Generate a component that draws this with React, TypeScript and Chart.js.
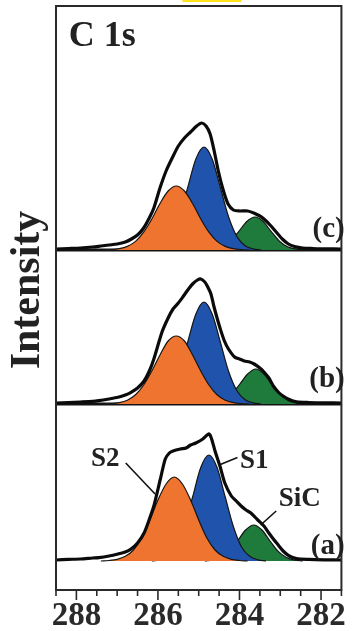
import React, { useEffect, useRef } from 'react';
import { Chart, registerables } from 'chart.js';

Chart.register(...registerables);

type Pt = [number, number];

// Binding energy axis (eV), drawn high → low
const energyMin = 281.5;
const energyMax = 288.5;
const energyTicks = [288, 286, 284, 282];

// ---- Sample (a) ----
const envelopeA: Pt[] = [
  [288.5, 1], [288.2, 1.6], [287.9, 2], [287.6, 3], [287.45, 3.4], [287.2, 5], [286.98, 7], [286.8, 9],
  [286.66, 12], [286.5, 18], [286.34, 28], [286.2, 43], [286.1, 55], [285.94, 82], [285.82, 102],
  [285.72, 108], [285.63, 110], [285.45, 112], [285.31, 113], [285.2, 116], [285.07, 118], [284.9, 122],
  [284.76, 127], [284.7, 124], [284.6, 110], [284.48, 95], [284.36, 78], [284.2, 65], [284.08, 60],
  [283.96, 55], [283.84, 51], [283.72, 48], [283.55, 41], [283.4, 35], [283.28, 28], [283.17, 22],
  [283.05, 16], [282.93, 10], [282.78, 5], [282.6, 2.4], [282.3, 1.6], [281.9, 1.2], [281.5, 1],
];
const s2A: Pt[] = [
  [287.4, 0], [287.2, 0.5], [287.0, 1.7], [286.8, 4.7], [286.6, 11], [286.4, 23], [286.2, 41], [286.0, 61],
  [285.8, 77], [285.6, 84], [285.4, 77], [285.2, 61], [285.0, 41], [284.8, 23], [284.6, 11], [284.4, 4.7],
  [284.2, 1.7], [284.0, 0.5], [283.8, 0],
];
const s1A: Pt[] = [
  [286.15, 0], [285.95, 1.2], [285.75, 4.7], [285.55, 14], [285.35, 34.5], [285.15, 64], [284.95, 93.5],
  [284.75, 106], [284.55, 93.5], [284.35, 64], [284.15, 34.5], [283.95, 14], [283.75, 4.7], [283.55, 1.2],
  [283.35, 0],
];
const sicA: Pt[] = [
  [284.85, 0], [284.65, 0.9], [284.45, 3.5], [284.25, 9.6], [284.05, 20], [283.85, 31], [283.65, 36],
  [283.45, 31], [283.25, 20], [283.05, 9.6], [282.85, 3.5], [282.65, 0.9], [282.45, 0],
];

// ---- Sample (b) ----
const envelopeB: Pt[] = [
  [288.5, 1], [288.2, 1.5], [287.9, 2], [287.6, 2.6], [287.45, 3.3], [287.2, 5], [286.98, 6.7], [286.8, 9],
  [286.66, 11.7], [286.5, 16], [286.34, 23], [286.2, 34], [286.1, 45], [285.9, 72], [285.75, 86],
  [285.63, 95], [285.5, 101], [285.39, 107], [285.25, 115], [285.15, 120], [285.03, 124], [284.95, 125],
  [284.85, 122], [284.79, 118], [284.7, 110], [284.63, 98], [284.55, 86], [284.47, 75], [284.37, 63],
  [284.27, 55], [284.12, 47], [284.0, 45], [283.88, 43], [283.75, 42], [283.64, 40], [283.5, 36],
  [283.4, 32], [283.28, 26], [283.17, 18], [283.05, 12], [282.93, 8], [282.78, 4.5], [282.6, 2.2],
  [282.3, 1.5], [281.9, 1.1], [281.5, 1],
];
const s2B: Pt[] = [
  [287.35, 0], [287.15, 0.4], [286.95, 1.3], [286.75, 3.8], [286.55, 9.2], [286.35, 19], [286.15, 33],
  [285.95, 49], [285.75, 63], [285.55, 68], [285.35, 63], [285.15, 49], [284.95, 33], [284.75, 19],
  [284.55, 9.2], [284.35, 3.8], [284.15, 1.3], [283.95, 0.4], [283.75, 0],
];
const s1B: Pt[] = [
  [286.27, 0], [286.07, 1.1], [285.87, 4.5], [285.67, 13.8], [285.47, 33], [285.27, 62], [285.07, 90],
  [284.87, 102], [284.67, 90], [284.47, 62], [284.27, 33], [284.07, 13.8], [283.87, 4.5], [283.67, 1.1],
  [283.47, 0],
];
const sicB: Pt[] = [
  [284.8, 0], [284.6, 0.9], [284.4, 3.4], [284.2, 9.4], [284.0, 19.5], [283.8, 30], [283.6, 35],
  [283.4, 30], [283.2, 19.5], [283.0, 9.4], [282.8, 3.4], [282.6, 0.9], [282.4, 0],
];

// ---- Sample (c) ----
const envelopeC: Pt[] = [
  [288.5, 1], [288.2, 1.5], [287.9, 2], [287.6, 3], [287.4, 4], [287.2, 5], [287.0, 6], [286.8, 8],
  [286.65, 11], [286.5, 15], [286.35, 22], [286.2, 33], [286.1, 42], [285.95, 62], [285.8, 79],
  [285.65, 92], [285.5, 104], [285.35, 112], [285.2, 118], [285.05, 124], [284.93, 127], [284.82, 124],
  [284.72, 116], [284.62, 99], [284.52, 79], [284.4, 60], [284.28, 46], [284.15, 40], [284.0, 39],
  [283.8, 39], [283.65, 37], [283.5, 34], [283.4, 31], [283.25, 25], [283.1, 18], [282.95, 11],
  [282.8, 6], [282.65, 3.5], [282.45, 2], [282.2, 1.5], [281.9, 1.1], [281.5, 1],
];
const s2C: Pt[] = [
  [287.35, 0], [287.15, 0.4], [286.95, 1.3], [286.75, 3.6], [286.55, 8.6], [286.35, 17.8], [286.15, 31],
  [285.95, 46.5], [285.75, 59], [285.55, 64], [285.35, 59], [285.15, 46.5], [284.95, 31], [284.75, 17.8],
  [284.55, 8.6], [284.35, 3.6], [284.15, 1.3], [283.95, 0.4], [283.75, 0],
];
const s1C: Pt[] = [
  [286.27, 0], [286.07, 1.1], [285.87, 4.5], [285.67, 13.9], [285.47, 33.5], [285.27, 62.5], [285.07, 91],
  [284.87, 103], [284.67, 91], [284.47, 62.5], [284.27, 33.5], [284.07, 13.9], [283.87, 4.5], [283.67, 1.1],
  [283.47, 0],
];
const sicC: Pt[] = [
  [284.82, 0], [284.62, 0.9], [284.42, 3.2], [284.22, 8.8], [284.02, 18.4], [283.82, 28.5], [283.62, 33],
  [283.42, 28.5], [283.22, 18.4], [283.02, 8.8], [282.82, 3.2], [282.62, 0.9], [282.42, 0],
];

const panelNames = ['(a)', '(b)', '(c)'];
const peakNames = ['S2', 'S1', 'SiC'];

// vertical stacking of the three spectra (intensity units)
const panelOffsets = [29, 186, 340];
const yMax = 584;

const SERIF = '"Liberation Serif", "Times New Roman", serif';
const ORANGE = '#EF7430';
const BLUE = '#2053AC';
const GREEN = '#1E7B3C';

const panels = [
  { env: envelopeA, s2: s2A, s1: s1A, sic: sicA },
  { env: envelopeB, s2: s2B, s1: s1B, sic: sicB },
  { env: envelopeC, s2: s2C, s1: s1C, sic: sicC },
];

const shift = (pts: Pt[], off: number) => pts.map(([x, y]) => ({ x, y: y + off }));

function buildDatasets() {
  const sets: any[] = [];
  panels.forEach((p, i) => {
    const off = panelOffsets[i];
    sets.push({
      label: `envelope ${panelNames[i]}`,
      data: shift(p.env, off),
      borderColor: '#0b0b0b',
      borderWidth: 3.2,
      pointRadius: 0,
      fill: false,
      tension: 0.25,
      order: 0,
    });
    const comps: [Pt[], string, number][] = [
      [p.s2, ORANGE, 1],
      [p.s1, BLUE, 2],
      [p.sic, GREEN, 3],
    ];
    comps.forEach(([pts, color, order], k) => {
      sets.push({
        label: `${peakNames[k]} ${panelNames[i]}`,
        data: shift(pts, off),
        borderColor: '#161616',
        borderWidth: 1.2,
        backgroundColor: color,
        pointRadius: 0,
        cubicInterpolationMode: 'monotone',
        fill: { value: off },
        order,
      });
    });
  });
  return sets;
}

const decorations = {
  id: 'decorations',
  beforeDatasetsDraw(chart: any) {
    const { ctx, chartArea: a, scales } = chart;
    const y = scales.y;
    ctx.save();
    ctx.strokeStyle = '#141414';
    ctx.lineWidth = 3;
    [panelOffsets[1], panelOffsets[2]].forEach((off) => {
      const py = y.getPixelForValue(off);
      ctx.beginPath();
      ctx.moveTo(a.left, py);
      ctx.lineTo(a.right, py);
      ctx.stroke();
    });
    ctx.restore();
  },
  afterDraw(chart: any) {
    const { ctx, chartArea: a, scales } = chart;
    const x = scales.x;
    const y = scales.y;
    const X = (v: number) => x.getPixelForValue(v);
    const Y = (v: number) => y.getPixelForValue(v);
    ctx.save();

    // frame
    ctx.strokeStyle = '#2a2a2a';
    ctx.lineWidth = 2;
    ctx.strokeRect(a.left, a.top, a.right - a.left, a.bottom - a.top);

    // tick marks every 0.5 eV, longer on labelled values
    ctx.lineWidth = 1.6;
    for (let v = energyMin; v <= energyMax + 1e-6; v += 0.5) {
      const px = X(v);
      const major = Math.abs(v / 2 - Math.round(v / 2)) < 1e-6;
      ctx.beginPath();
      ctx.moveTo(px, a.bottom);
      ctx.lineTo(px, a.bottom + (major ? 10 : 6));
      ctx.stroke();
    }

    ctx.fillStyle = '#222';
    ctx.textBaseline = 'alphabetic';

    // core level title
    ctx.font = `bold 36px ${SERIF}`;
    ctx.textAlign = 'left';
    ctx.fillText('C 1s', X(288.19), Y(544));

    // axis title
    ctx.save();
    ctx.translate(39, (a.top + a.bottom) / 2 - 8);
    ctx.rotate(-Math.PI / 2);
    ctx.textAlign = 'center';
    ctx.font = `bold 42px ${SERIF}`;
    ctx.fillText('Intensity', 0, 0);
    ctx.restore();

    // sample labels
    ctx.font = `bold 29px ${SERIF}`;
    ctx.textAlign = 'right';
    ctx.textBaseline = 'middle';
    const labelRise = [14, 24, 20];
    panelNames.forEach((n, i) => {
      ctx.fillText(n, X(281.42), Y(panelOffsets[i] + labelRise[i]));
    });

    // peak assignments on sample (a)
    const base = panelOffsets[0];
    ctx.font = `bold 27px ${SERIF}`;
    ctx.textAlign = 'center';
    const namePos: Pt[] = [[287.29, 102], [283.64, 100], [282.52, 62]];
    peakNames.forEach((n, k) => {
      ctx.fillText(n, X(namePos[k][0]), Y(base + namePos[k][1]));
    });
    const pointers: [Pt, Pt][] = [
      [[286.79, 98], [286.07, 67]],
      [[284.5, 96], [284.05, 103.5]],
      [[283.48, 36], [283.1, 50]],
    ];
    ctx.strokeStyle = '#111';
    ctx.lineWidth = 1.6;
    pointers.forEach(([p, q]) => {
      ctx.beginPath();
      ctx.moveTo(X(p[0]), Y(base + p[1]));
      ctx.lineTo(X(q[0]), Y(base + q[1]));
      ctx.stroke();
    });

    // highlight sliver above the frame
    ctx.fillStyle = '#FFE21A';
    ctx.fillRect(X(285.4), 0, X(283.95) - X(285.4), 2);

    ctx.restore();
  },
};

export default function App() {
  const canvasRef = useRef<HTMLCanvasElement | null>(null);

  useEffect(() => {
    const canvas = canvasRef.current;
    if (!canvas) return;
    const chart = new Chart(canvas, {
      type: 'line',
      data: { datasets: buildDatasets() },
      options: {
        responsive: false,
        animation: false,
        devicePixelRatio: 1,
        layout: { padding: { top: 6, right: 3, left: 0, bottom: 0 } },
        plugins: { legend: { display: false }, tooltip: { enabled: false } },
        scales: {
          x: {
            type: 'linear',
            reverse: true,
            min: energyMin,
            max: energyMax,
            afterBuildTicks: (s: any) => {
              s.ticks = energyTicks.map((v) => ({ value: v }));
            },
            afterFit: (s: any) => {
              s.height = 41;
            },
            ticks: {
              color: '#2a2a2a',
              padding: 7,
              maxRotation: 0,
              autoSkip: false,
              font: { family: SERIF, size: 33, weight: 'bold' },
              callback: (v: any) => String(v),
            },
            grid: { display: false, drawTicks: false },
            border: { display: false },
          },
          y: {
            type: 'linear',
            min: 0,
            max: yMax,
            afterFit: (s: any) => {
              s.width = 56;
            },
            ticks: { display: false },
            grid: { display: false, drawTicks: false },
            border: { display: false },
          },
        },
      },
      plugins: [decorations],
    });
    return () => chart.destroy();
  }, []);

  return (
    <div style={{ position: 'absolute', left: 0, top: 0, width: 353, height: 631, background: '#fff' }}>
      <canvas ref={canvasRef} width={353} height={631} />
    </div>
  );
}
